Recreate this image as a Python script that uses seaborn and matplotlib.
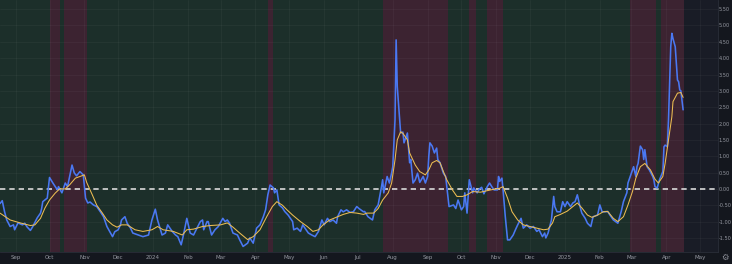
import numpy as np
import pandas as pd
import matplotlib
matplotlib.use("Agg")
import matplotlib.pyplot as plt
import matplotlib.dates as mdates
import seaborn as sns

# ---------------- data ----------------
start_date = "2023-08-18"

blue_days = [0, 2, 4, 6, 9, 12, 13, 16, 20, 22, 24, 27, 29, 33, 36, 37, 38, 42, 44, 47,
             51, 52, 55, 58, 60, 64, 66, 68, 71, 74, 76, 78, 80, 83, 86, 89, 92, 95, 100, 102,
             105, 107, 108, 111, 113, 116, 118, 123, 127, 132, 135, 138, 140, 144, 147, 149, 153, 156, 158, 161,
             163, 166, 169, 172, 175, 178, 180, 181, 184, 185, 188, 191, 194, 198, 200, 202, 204, 207, 211, 213,
             216, 220, 222, 225, 227, 228, 231, 234, 236, 238, 240, 243, 244, 246, 248, 251, 253, 256, 260, 261,
             264, 267, 269, 271, 274, 277, 280, 283, 286, 288, 291, 293, 296, 299, 300, 303, 305, 308, 311, 314,
             317, 319, 323, 324, 327, 331, 333, 336, 339, 340, 341, 344, 346, 348, 349, 351, 352, 353, 355, 356,
             358, 359, 362, 364, 365, 367, 369, 371, 373, 376, 378, 380, 381, 382, 384, 386, 388, 389, 391, 394,
             396, 397, 399, 403, 405, 407, 410, 412, 413, 415, 417, 420, 421, 424, 426, 428, 430, 433, 435, 437,
             439, 442, 443, 444, 446, 447, 449, 451, 453, 456, 458, 460, 463, 465, 468, 471, 474, 477, 479, 482,
             484, 485, 487, 490, 492, 493, 495, 498, 500, 502, 504, 507, 509, 511, 513, 515, 517, 520, 522, 525,
             527, 531, 533, 535, 537, 540, 542, 545, 549, 552, 554, 557, 558, 561, 563, 565, 566, 567, 569, 571,
             572, 573, 575, 577, 580, 581, 582, 584, 586, 589, 590, 591, 593, 594, 596, 597, 598, 600, 602, 603,
             604, 605, 606, 607]
blue_vals = [-0.45, -0.36, -0.69, -0.95, -1.15, -1.10, -1.25, -1.04, -1.10, -1.05, -1.16, -1.27, -1.16, -0.89, -0.74, -0.60, -0.39, -0.28, 0.35, 0.18,
             -0.03, 0.07, -0.12, 0.18, 0.07, 0.73, 0.49, 0.40, 0.53, 0.43, -0.28, -0.43, -0.40, -0.49, -0.54, -0.69, -0.85, -1.15, -1.46, -1.31,
             -1.25, -1.10, -0.95, -0.85, -1.05, -1.20, -1.35, -1.41, -1.46, -1.41, -0.95, -0.62, -0.95, -1.41, -1.35, -1.10, -1.30, -1.41, -1.46, -1.71,
             -1.41, -0.90, -1.35, -1.41, -1.20, -1.00, -0.95, -1.25, -1.00, -1.00, -1.41, -1.25, -1.15, -0.90, -1.00, -0.95, -1.05, -1.35, -1.41, -1.56,
             -1.76, -1.66, -1.50, -1.66, -1.35, -1.20, -1.10, -0.85, -0.64, -0.18, 0.12, 0.03, -0.12, -0.03, -0.49, -0.58, -0.69, -0.80, -1.00, -1.25,
             -1.20, -1.30, -1.10, -1.20, -1.35, -1.41, -1.46, -1.30, -0.95, -1.10, -0.90, -1.00, -0.95, -1.05, -0.85, -0.64, -0.70, -0.64, -0.72, -0.70,
             -0.54, -0.60, -0.70, -0.69, -0.85, -0.95, -0.64, -0.49, 0.07, 0.28, -0.12, 0.38, 0.18, 0.49, 0.68, 2.11, 4.56, 3.13, 2.21, 1.71,
             1.74, 1.41, 1.71, 0.80, 0.90, 0.18, 0.28, 0.48, 0.20, 0.38, 0.18, 0.38, 0.99, 1.41, 1.31, 1.10, 1.25, 0.90, 0.80, 0.48,
             0.38, 0.07, -0.54, -0.49, -0.60, -0.34, -0.64, -0.54, -0.12, -0.74, 0.28, -0.12, 0.03, -0.12, 0.00, 0.05, -0.15, 0.07, 0.18, 0.07,
             -0.03, -0.03, 0.38, 0.23, 0.33, -0.03, -0.85, -1.56, -1.56, -1.41, -1.25, -1.10, -0.90, -1.20, -1.10, -1.20, -1.15, -1.30, -1.25, -1.46,
             -1.35, -1.50, -1.35, -0.95, -0.23, -0.54, -0.70, -0.70, -0.39, -0.54, -0.39, -0.54, -0.43, -0.39, -0.18, -0.49, -0.74, -0.90, -1.05, -1.15,
             -0.85, -0.80, -0.49, -0.70, -0.70, -0.69, -0.80, -0.95, -1.05, -0.69, -0.39, -0.12, 0.18, 0.48, 0.68, 0.38, 0.68, 0.78, 1.31, 1.20,
             0.90, 1.20, 0.68, 0.58, 0.38, 0.28, 0.07, 0.03, 0.28, 0.53, 1.29, 1.34, 1.29, 2.11, 4.35, 4.76, 4.60, 4.35, 3.33, 3.28,
             3.03, 3.00, 2.72, 2.42]

ma_days = [0, 9, 18, 27, 31, 36, 40, 44, 49, 53, 58, 62, 67, 71, 75, 77, 82, 86, 91, 95,
           100, 104, 108, 113, 120, 127, 135, 140, 145, 154, 162, 166, 172, 180, 187, 196, 202, 207, 213, 220,
           225, 231, 237, 242, 246, 251, 255, 260, 267, 273, 278, 283, 287, 293, 300, 305, 311, 317, 323, 326,
           332, 336, 340, 345, 348, 351, 353, 356, 358, 362, 364, 369, 373, 378, 381, 384, 388, 391, 394, 397,
           402, 406, 411, 415, 420, 427, 436, 444, 447, 451, 455, 460, 465, 471, 477, 483, 487, 491, 493, 498,
           504, 509, 513, 517, 522, 526, 531, 536, 540, 545, 549, 554, 558, 562, 565, 569, 573, 578, 582, 585,
           589, 591, 594, 597, 598, 602, 605, 607]
ma_vals = [-0.74, -0.95, -1.04, -1.12, -1.10, -0.90, -0.58, -0.34, -0.13, 0.00, 0.00, 0.13, 0.33, 0.38, 0.43, 0.20, -0.18, -0.50, -0.74, -0.95,
           -1.10, -1.17, -1.10, -1.10, -1.25, -1.30, -1.25, -1.15, -1.25, -1.30, -1.41, -1.25, -1.23, -1.15, -1.12, -1.10, -1.04, -1.17, -1.35, -1.55,
           -1.46, -1.25, -0.85, -0.54, -0.39, -0.50, -0.64, -0.80, -1.00, -1.15, -1.30, -1.25, -1.10, -0.95, -0.85, -0.78, -0.72, -0.74, -0.78, -0.74,
           -0.74, -0.60, -0.34, -0.12, 0.18, 0.89, 1.50, 1.75, 1.70, 1.50, 1.10, 0.73, 0.53, 0.43, 0.58, 0.80, 0.87, 0.80, 0.53, 0.28,
           -0.03, -0.23, -0.23, -0.18, -0.08, -0.10, -0.03, 0.02, 0.07, -0.28, -0.70, -0.95, -1.10, -1.15, -1.20, -1.25, -1.23, -1.04, -0.85, -0.78,
           -0.68, -0.54, -0.43, -0.58, -0.80, -0.87, -0.80, -0.70, -0.69, -0.90, -1.00, -0.85, -0.49, -0.08, 0.33, 0.68, 0.78, 0.58, 0.30, 0.18,
           0.38, 0.78, 1.50, 2.21, 2.67, 2.93, 2.95, 2.80]

# regime bands (red periods); the rest of the data span is green
red_starts = ["2023-10-01", "2023-10-14", "2024-04-12", "2024-07-23", "2024-10-08", "2024-10-24", "2025-02-28", "2025-03-27"]
red_ends = ["2023-10-10", "2023-11-03", "2024-04-17", "2024-09-19", "2024-10-14", "2024-11-07", "2025-03-23", "2025-04-17"]
data_end = "2025-04-17"
view_end = "2025-05-17"

y_ticks = [-1.5, -1.0, -0.5, 0.0, 0.5, 1.0, 1.5, 2.0, 2.5, 3.0, 3.5, 4.0, 4.5, 5.0, 5.5]
month_ticks = ["2023-09-01", "2023-10-01", "2023-11-01", "2023-12-01", "2024-01-01", "2024-02-01",
               "2024-03-01", "2024-04-01", "2024-05-01", "2024-06-01", "2024-07-01", "2024-08-01",
               "2024-09-01", "2024-10-01", "2024-11-01", "2024-12-01", "2025-01-01", "2025-02-01",
               "2025-03-01", "2025-04-01", "2025-05-01"]
month_labels = ["Sep", "Oct", "Nov", "Dec", "2024", "Feb", "Mar", "Apr", "May", "Jun", "Jul", "Aug",
                "Sep", "Oct", "Nov", "Dec", "2025", "Feb", "Mar", "Apr", "May"]

# ---------------- build frames ----------------
t0 = pd.Timestamp(start_date)
blue_df = pd.DataFrame({"date": t0 + pd.to_timedelta(blue_days, unit="D"), "value": blue_vals})
ma_df = pd.DataFrame({"date": t0 + pd.to_timedelta(ma_days, unit="D"), "value": ma_vals})

sns.set_theme(style="dark")
plt.rcParams["font.family"] = ["DejaVu Sans"]

W, H = 732, 264
fig = plt.figure(figsize=(W / 100, H / 100), dpi=100, facecolor="#14171e")
ax = fig.add_axes([0, 12 / H, 718 / W, 252 / H])
ax.set_facecolor("#191c26")

green = "#1c2f2a"
red = "#3c2331"
ax.axvspan(t0, pd.Timestamp(data_end), color=green, lw=0, zorder=0)
for s, e in zip(red_starts, red_ends):
    ax.axvspan(pd.Timestamp(s), pd.Timestamp(e), color=red, lw=0, zorder=0.1)

# grid
for d in month_ticks:
    ax.axvline(pd.Timestamp(d), color="#ffffff", alpha=0.045, lw=0.6, zorder=0.2)
for yv in y_ticks:
    ax.axhline(yv, color="#ffffff", alpha=0.045, lw=0.6, zorder=0.2)

ax.axhline(0, color="#d9d9d9", lw=1.2, ls=(0, (3.2, 2.4)), zorder=2)

sns.lineplot(data=blue_df, x="date", y="value", ax=ax, color="#4a78f2", linewidth=1.15, zorder=3)
sns.lineplot(data=ma_df, x="date", y="value", ax=ax, color="#ecbd52", linewidth=0.75, zorder=4)

ax.set_xlim(t0, pd.Timestamp(view_end))
ax.set_ylim(-1.93, 5.78)
ax.set_xlabel("")
ax.set_ylabel("")
ax.grid(False)
for sp in ax.spines.values():
    sp.set_visible(False)
ax.spines["right"].set_visible(True)
ax.spines["right"].set_color("#2a2e39")
ax.spines["right"].set_linewidth(0.6)
ax.spines["bottom"].set_visible(True)
ax.spines["bottom"].set_color("#2a2e39")
ax.spines["bottom"].set_linewidth(0.6)

ax.yaxis.tick_right()
ax.set_yticks(y_ticks)
ax.set_yticklabels([f"{v:.2f}" for v in y_ticks])
ax.set_xticks([pd.Timestamp(d) for d in month_ticks])
ax.set_xticklabels(month_labels)
ax.tick_params(axis="y", length=0, pad=0.6, labelsize=3.6, labelcolor="#9598a1")
ax.tick_params(axis="x", length=0, pad=2.2, labelsize=4, labelcolor="#9598a1")

fig.text(725 / W, 6.5 / H, "\u2699", ha="center", va="center", fontsize=6, color="#8a8d96")

fig.savefig("out.png", dpi=100, facecolor=fig.get_facecolor())
